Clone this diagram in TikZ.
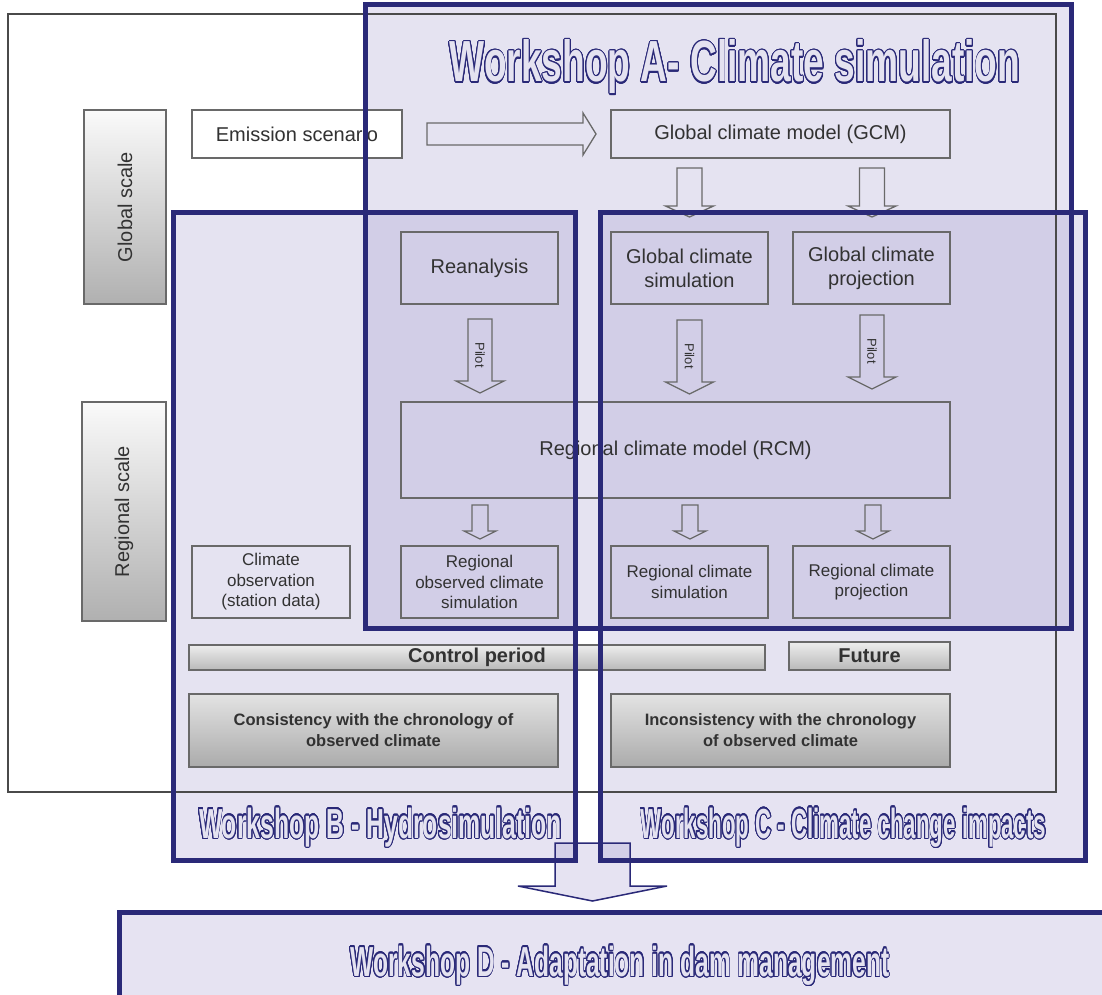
\documentclass[tikz,border=0pt]{standalone}
\usepackage{fontspec}
\setmainfont{Liberation Sans}
\usepackage{contour}
\contourlength{1.4pt}
\contournumber{24}

\definecolor{wsnavy}{RGB}{42,41,120}
\definecolor{wslav}{RGB}{150,140,200}
\definecolor{wsletter}{RGB}{228,226,240}
\definecolor{boxgray}{RGB}{105,105,105}
\definecolor{txtgray}{RGB}{50,50,50}

% block arrow pointing down: x, top, tip, shaft half width, head half width, head length
\newcommand{\fatdown}[6]{%
  \draw[fatarrow] (#1-#4,#2) -- (#1+#4,#2) -- (#1+#4,#3-#6) -- (#1+#5,#3-#6)
    -- (#1,#3) -- (#1-#5,#3-#6) -- (#1-#4,#3-#6) -- cycle;}
% outlined workshop title
\newcommand{\wstitle}[2]{\scalebox{#1}[1]{\color{wsletter}\contour{wsnavy}{#2}}}

\tikzset{
  wsfill/.style={fill=wslav, fill opacity=0.24},
  wsframe/.style={draw=wsnavy, line width=5pt},
  box/.style={draw=boxgray, line width=1.4pt, align=center, text=txtgray,
    inner sep=0pt, font=\fontsize{20}{24}\selectfont},
  smallbox/.style={box, font=\fontsize{17}{20.5}\selectfont},
  scalebar/.style={draw=boxgray, line width=1.4pt, text=txtgray, rotate=90,
    top color=gray!4, bottom color=gray!62, inner sep=0pt,
    font=\fontsize{20}{24}\selectfont},
  periodbar/.style={draw=boxgray, line width=1.4pt, text=txtgray, inner sep=0pt,
    top color=gray!14, bottom color=gray!55, font=\fontsize{20}{24}\selectfont\bfseries},
  chronobox/.style={periodbar, align=center, top color=gray!22, bottom color=gray!66,
    font=\fontsize{16.5}{21}\selectfont\bfseries},
  fatarrow/.style={draw=boxgray, line width=1.3pt},
  pilot/.style={rotate=-90, text=txtgray, font=\fontsize{13}{15}\selectfont},
  title/.style={anchor=base, font=\fontsize{42}{48}\selectfont\bfseries}
}

\begin{document}
\begin{tikzpicture}[x=1pt, y=-1pt]
  \useasboundingbox (0,0) rectangle (1102,995);
  % outer frame
  \fill[white] (8,14) rectangle (1056,792);

  % workshop areas
  \fill[wsfill] (365,5) rectangle (1071,628);
  \fill[wsfill] (173,212) rectangle (575,860);
  \fill[wsfill] (600,212) rectangle (1085,860);
  \fill[wsfill] (117,912) rectangle (1120,1010);
  \draw[draw=boxgray!70!black, line width=1.5pt] (8,14) rectangle (1056,792);

  % scale bars
  \node[scalebar, minimum width=194, minimum height=82] (gs) at (125,207) {Global scale};
  \node[scalebar, minimum width=219, minimum height=84] (rs) at (124,511.5) {Regional scale};

  % global level
  \node[box, fill=white, minimum width=210, minimum height=48] (em) at (297,134) {Emission scenario};
  \node[box, minimum width=339, minimum height=48] (gcm) at (780.5,134) {Global climate model (GCM)};
  \node[box, minimum width=157, minimum height=72] (rea) at (479.5,268) {Reanalysis};
  \node[box, minimum width=157, minimum height=72] (gcs) at (689.5,268) {Global climate\\simulation};
  \node[box, minimum width=157, minimum height=72] (gcp) at (871.5,268) {Global climate\\projection};

  % regional level
  \node[box, minimum width=549, minimum height=96] (rcm) at (675.5,450) {Regional climate model (RCM)};
  \node[smallbox, minimum width=158, minimum height=72] (obs) at (271,582) {Climate\\observation\\(station data)};
  \node[smallbox, minimum width=157, minimum height=72] (ros) at (479.5,582) {Regional\\observed climate\\simulation};
  \node[smallbox, minimum width=157, minimum height=72] (rcs) at (689.5,582) {Regional climate\\simulation};
  \node[smallbox, minimum width=157, minimum height=72] (rcp) at (871.5,582) {Regional climate\\projection};

  % periods
  \node[periodbar, minimum width=576, minimum height=25] (ctrl) at (477,657.5) {Control period};
  \node[periodbar, minimum width=161, minimum height=28] (fut) at (869.5,656) {Future};
  \node[chronobox, minimum width=369, minimum height=73] (cons) at (373.5,730.5) {Consistency with the chronology of\\observed climate};
  \node[chronobox, minimum width=339, minimum height=73] (inc) at (780.5,730.5) {Inconsistency with the chronology\\of observed climate};

  % block arrows
  \draw[fatarrow] (427,123) -- (583,123) -- (583,113) -- (596,134) -- (583,155) -- (583,145) -- (427,145) -- cycle;
  \fatdown{689.5}{168}{217}{12.5}{24}{11}
  \fatdown{872}{168}{217}{12.5}{24}{11}
  \fatdown{480}{319}{393}{12}{24}{12}
  \fatdown{689.5}{320}{394}{12.5}{24}{12}
  \fatdown{872}{315}{389}{12}{24}{12}
  \node[pilot] (p1) at (480,355) {Pilot};
  \node[pilot] (p2) at (689.5,356) {Pilot};
  \node[pilot] (p3) at (872,351) {Pilot};
  \fatdown{480}{505}{539}{8}{16}{8}
  \fatdown{690}{505}{539}{8}{16}{8}
  \fatdown{873}{505}{539}{8}{16}{8}

  % arrow to workshop D
  \draw[wsnavy, line width=1.5pt, fill=wslav, fill opacity=0.24]
    (555,843) -- (630,843) -- (630,886) -- (667,886) -- (592.5,901)
    -- (518,886) -- (555,886) -- cycle;

  % workshop borders
  \draw[wsframe] (365,5) rectangle (1071,628);
  \draw[wsframe] (173,212) rectangle (575,860);
  \draw[wsframe] (600,212) rectangle (1085,860);
  \draw[wsframe] (117,912) -- (1120,912);
  \draw[wsframe] (119.5,912) -- (119.5,1010);

  % titles
  \node[title, font=\fontsize{58}{64}\selectfont\bfseries] (ta) at (735,82) {\wstitle{0.64}{Workshop A- Climate simulation}};
  \node[title] (tb) at (380.5,838) {\wstitle{0.59}{Workshop B - Hydrosimulation}};
  \node[title] (tc) at (843.5,838) {\wstitle{0.53}{Workshop C - Climate change impacts}};
  \node[title] (td) at (620,976) {\wstitle{0.585}{Workshop D - Adaptation in dam management}};
\end{tikzpicture}
\end{document}
